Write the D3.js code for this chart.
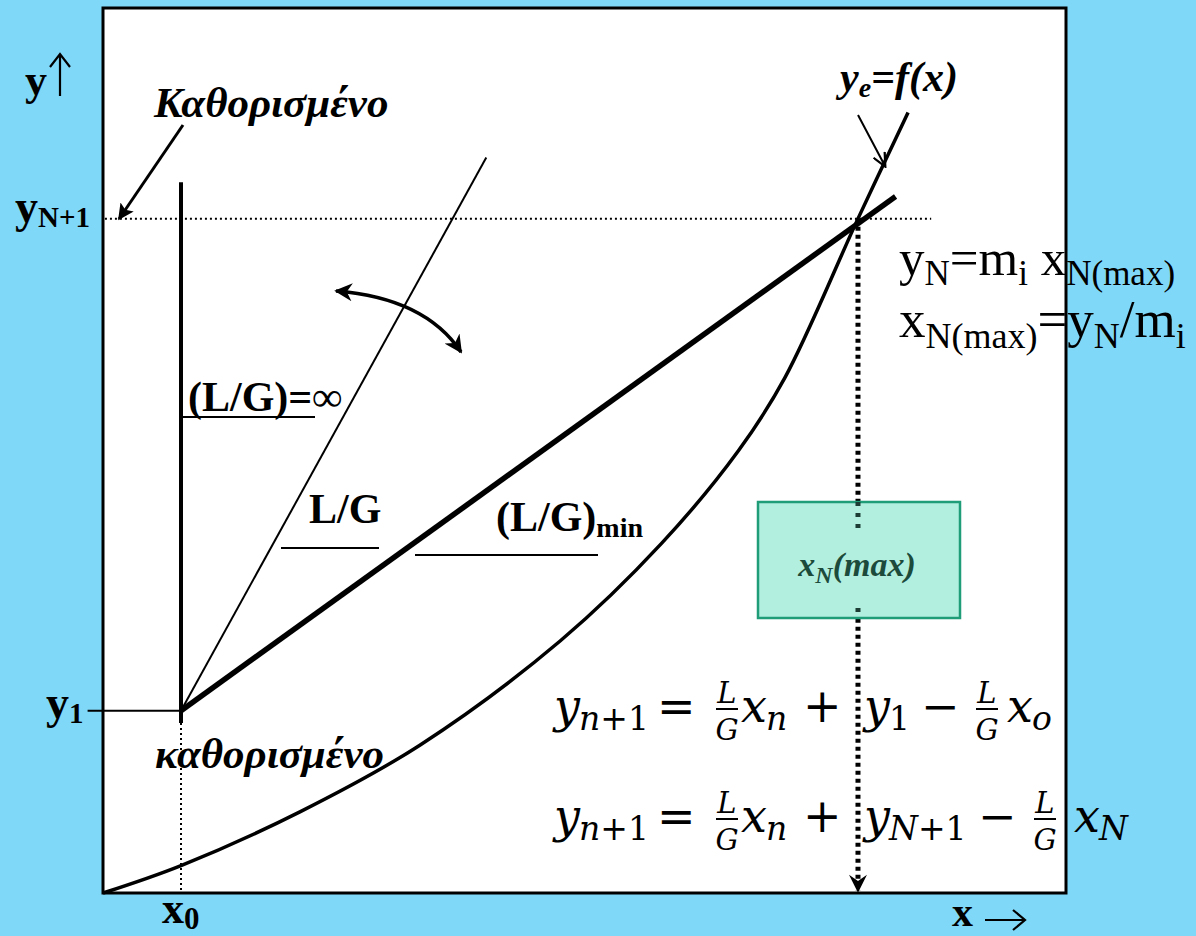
<!DOCTYPE html>
<html>
<head>
<meta charset="utf-8">
<script src="https://cdn.jsdelivr.net/npm/d3@7/dist/d3.min.js"></script>
<style>
  html, body { margin: 0; padding: 0; background: #80d8f8; }
  svg { display: block; }
</style>
</head>
<body>
<svg id="chart" width="1196" height="936"></svg>
<script>
// Absorber design: equilibrium curve y_e = f(x) and operating lines through (x0, y1)

// fixed end conditions
const x0 = 0.81, y1 = 2.06, xN = 7.84, yN1 = 7.62;

// equilibrium curve points (x, y_e)
const equilibrium = [
  [0, 0], [0.81, 0.31], [2.05, 0.92], [3.29, 1.67], [4.75, 2.85],
  [5.8, 3.95], [6.6, 5.0], [7.08, 5.82], [7.84, 7.62], [8.36, 8.82]
];

// operating lines
const lgInfinity = [[x0, 1.92], [x0, 8.03]];   // (L/G) = ∞  (vertical)
const lgOperating = [[x0, y1], [3.98, 8.31]];  // L/G
const lgMinimum = [[x0, y1], [8.23, 7.87]];    // (L/G)min, touches the curve at (xN, yN+1)

const W = 1196, H = 936;
const frame = { left: 103, top: 8, right: 1066, bottom: 893 };

const svg = d3.select("#chart");
const x = d3.scaleLinear().domain([0, 10]).range([frame.left, frame.right]);
const y = d3.scaleLinear().domain([0, 10]).range([frame.bottom, frame.top]);
const line = d3.line().x(d => x(d[0])).y(d => y(d[1]));

const serif = "'Liberation Serif', 'Times New Roman', serif";
const mathFont = "'DejaVu Serif', serif";

// markers
const defs = svg.append("defs");
defs.append("marker").attr("id", "stealth")
  .attr("viewBox", "0 0 10 10").attr("refX", 9).attr("refY", 5)
  .attr("markerUnits", "userSpaceOnUse").attr("markerWidth", 22).attr("markerHeight", 18)
  .attr("orient", "auto-start-reverse")
  .append("path").attr("d", "M0,0 L10,5 L0,10 L3,5 Z").attr("fill", "#000");
defs.append("marker").attr("id", "tri")
  .attr("viewBox", "0 0 10 10").attr("refX", 9).attr("refY", 5)
  .attr("markerUnits", "userSpaceOnUse").attr("markerWidth", 20).attr("markerHeight", 16)
  .attr("orient", "auto")
  .append("path").attr("d", "M0,0 L10,5 L0,10 L2,5 Z").attr("fill", "#000");
defs.append("marker").attr("id", "open")
  .attr("viewBox", "0 0 10 10").attr("refX", 9).attr("refY", 5)
  .attr("markerUnits", "userSpaceOnUse").attr("markerWidth", 16).attr("markerHeight", 14)
  .attr("orient", "auto")
  .append("path").attr("d", "M0,0.5 L9.5,5 L0,9.5").attr("fill", "none")
  .attr("stroke", "#000").attr("stroke-width", 1.6);
defs.append("marker").attr("id", "down")
  .attr("viewBox", "0 0 10 10").attr("refX", 9).attr("refY", 5)
  .attr("markerUnits", "userSpaceOnUse").attr("markerWidth", 20).attr("markerHeight", 18)
  .attr("orient", "auto")
  .append("path").attr("d", "M0,0 L10,5 L0,10 L3.5,5 Z").attr("fill", "#000");

// background and plotting frame
svg.append("rect").attr("width", W).attr("height", H).attr("fill", "#80d8f8");
svg.append("rect")
  .attr("x", frame.left).attr("y", frame.top)
  .attr("width", frame.right - frame.left).attr("height", frame.bottom - frame.top)
  .attr("fill", "#fff").attr("stroke", "#000").attr("stroke-width", 3);

// reference guides
svg.append("line")
  .attr("x1", x(0.02)).attr("x2", x(8.6)).attr("y1", y(yN1)).attr("y2", y(yN1))
  .attr("stroke", "#000").attr("stroke-width", 2).attr("stroke-dasharray", "2,3");
svg.append("line")
  .attr("x1", x(x0)).attr("x2", x(x0)).attr("y1", y(1.92)).attr("y2", y(0))
  .attr("stroke", "#000").attr("stroke-width", 2).attr("stroke-dasharray", "2,3");
svg.append("line")
  .attr("x1", x(-0.16)).attr("x2", x(x0)).attr("y1", y(y1)).attr("y2", y(y1))
  .attr("stroke", "#000").attr("stroke-width", 2);

// curves and operating lines
svg.append("path").datum(equilibrium)
  .attr("d", line.curve(d3.curveCatmullRom))
  .attr("fill", "none").attr("stroke", "#000").attr("stroke-width", 3.5);
line.curve(d3.curveLinear);
svg.append("path").datum(lgInfinity).attr("d", line)
  .attr("fill", "none").attr("stroke", "#000").attr("stroke-width", 4);
svg.append("path").datum(lgOperating).attr("d", line)
  .attr("fill", "none").attr("stroke", "#000").attr("stroke-width", 2);
svg.append("path").datum(lgMinimum).attr("d", line)
  .attr("fill", "none").attr("stroke", "#000").attr("stroke-width", 5.5);

// x_N(max) callout and projection of the pinch point
const box = { x0: 758, x1: 960, y0: 502, y1: 618 };
svg.append("line")
  .attr("x1", x(xN)).attr("x2", x(xN)).attr("y1", y(yN1)).attr("y2", y(0) - 2)
  .attr("stroke", "#000").attr("stroke-width", 5).attr("stroke-dasharray", "4,4")
  .attr("marker-end", "url(#down)");
svg.append("rect")
  .attr("x", box.x0).attr("y", box.y0).attr("width", box.x1 - box.x0).attr("height", box.y1 - box.y0)
  .attr("fill", "#b2efdf").attr("stroke", "#1f9c78").attr("stroke-width", 2.5);
[[box.y0, box.y0 + 26], [box.y1 - 10, box.y1]].forEach(([a, b]) => {
  svg.append("line")
    .attr("x1", x(xN)).attr("x2", x(xN)).attr("y1", a).attr("y2", b)
    .attr("stroke", "#1b3d33").attr("stroke-width", 5).attr("stroke-dasharray", "4,7");
});
const bt = svg.append("text")
  .attr("x", (box.x0 + box.x1) / 2 - 2).attr("y", 576).attr("text-anchor", "middle")
  .attr("font-family", serif).attr("font-style", "italic").attr("font-weight", "bold")
  .attr("font-size", 34).attr("fill", "#1c4a3b");
bt.append("tspan").text("x");
bt.append("tspan").attr("font-size", 24).attr("dy", 7).text("N");
bt.append("tspan").attr("dy", -7).text("(max)");

// arrows
svg.append("line").attr("x1", 183).attr("y1", 125).attr("x2", 119).attr("y2", 219)
  .attr("stroke", "#000").attr("stroke-width", 3).attr("marker-end", "url(#tri)");
svg.append("line").attr("x1", 858).attr("y1", 115).attr("x2", 885).attr("y2", 166)
  .attr("stroke", "#000").attr("stroke-width", 2).attr("marker-end", "url(#open)");
svg.append("path").attr("d", "M336,291 Q425,298 461,352")
  .attr("fill", "none").attr("stroke", "#000").attr("stroke-width", 3.5)
  .attr("marker-start", "url(#stealth)").attr("marker-end", "url(#stealth)");

// helper for text with subscripts
function label(px, py, parts, opts) {
  const t = svg.append("text").attr("x", px).attr("y", py)
    .attr("font-family", opts.family || serif)
    .attr("font-size", opts.size)
    .attr("font-weight", opts.weight || "normal")
    .attr("font-style", opts.style || "normal")
    .attr("fill", "#000");
  let shift = 0;
  parts.forEach(p => {
    const s = t.append("tspan").text(p.t);
    const want = p.dy || 0;
    s.attr("dy", want - shift);
    shift = want;
    if (p.size) s.attr("font-size", p.size);
    if (p.style) s.attr("font-style", p.style);
  });
  return t;
}

// axis labels with their direction arrows
label(25, 95, [{ t: "y" }], { size: 44, weight: "bold" });
svg.append("path").attr("d", "M60,96 V55 M50,67 L60,54 L70,67")
  .attr("fill", "none").attr("stroke", "#000").attr("stroke-width", 2.2);
label(952, 926, [{ t: "x" }], { size: 42, weight: "bold" });
svg.append("path").attr("d", "M985,920 H1024 M1013,910 L1025,920 L1013,930")
  .attr("fill", "none").attr("stroke", "#000").attr("stroke-width", 2.2);
label(15, 222, [{ t: "y" }, { t: "N+1", size: 29, dy: 5 }], { size: 46, weight: "bold" });
label(46, 718, [{ t: "y" }, { t: "1", size: 29, dy: 5 }], { size: 46, weight: "bold" });
label(162, 923, [{ t: "x" }, { t: "0", size: 31, dy: 6 }], { size: 44, weight: "bold" });

// annotations
label(154, 117, [{ t: "Καθορισμένο" }], { size: 43, weight: "bold", style: "italic" });
label(155, 768, [{ t: "καθορισμένο" }], { size: 43, weight: "bold", style: "italic" });
label(840, 91, [{ t: "y" }, { t: "e", size: 28, dy: 6 }, { t: "=f(x)", dy: 0 }],
  { size: 42, weight: "bold", style: "italic" });

label(188, 411, [{ t: "(L/G)=∞" }], { size: 42, weight: "bold" });
label(309, 523, [{ t: "L/G" }], { size: 42, weight: "bold" });
label(496, 531, [{ t: "(L/G)" }, { t: "min", size: 28, dy: 6 }], { size: 42, weight: "bold" });

const underline = (a, b, yy) => svg.append("line")
  .attr("x1", a).attr("x2", b).attr("y1", yy).attr("y2", yy)
  .attr("stroke", "#000").attr("stroke-width", 2.2);
underline(182, 315, 417);
underline(281, 379, 548);
underline(415, 598, 555);

// relations at the pinch point
label(899, 275, [{ t: "y" }, { t: "N", size: 35, dy: 10 }, { t: "=m", dy: 0 },
  { t: "i", size: 35, dy: 10 }, { t: " x", dy: 0 }, { t: "N(max)", size: 35, dy: 10 }], { size: 51 });
label(899, 337, [{ t: "x" }, { t: "N(max)", size: 36, dy: 11 }, { t: "=y", dy: 0 },
  { t: "N", size: 36, dy: 11 }, { t: "/m", dy: 0 }, { t: "i", size: 36, dy: 11 }], { size: 53 });

// operating line equations
function mathRow(base, items) {
  items.forEach(it => {
    if (it.frac) {
      svg.append("text").attr("x", it.x).attr("y", base - 19).attr("text-anchor", "middle")
        .attr("font-family", mathFont).attr("font-style", "italic").attr("font-size", 29).text("L");
      svg.append("text").attr("x", it.x).attr("y", base + 18).attr("text-anchor", "middle")
        .attr("font-family", mathFont).attr("font-style", "italic").attr("font-size", 29).text("G");
      svg.append("line").attr("x1", it.x - 11).attr("x2", it.x + 11)
        .attr("y1", base - 13).attr("y2", base - 13).attr("stroke", "#000").attr("stroke-width", 2);
    } else {
      const t = svg.append("text").attr("x", it.x).attr("y", base)
        .attr("font-family", mathFont).attr("font-size", 46)
        .attr("font-style", it.upright ? "normal" : "italic").attr("fill", "#000").text(it.t);
      if (it.sub) {
        const subs = Array.isArray(it.sub) ? it.sub : [[it.sub, true]];
        let first = true;
        subs.forEach(([s, ital]) => {
          const sp = t.append("tspan").attr("font-size", 33)
            .attr("font-style", ital ? "italic" : "normal").text(s);
          if (first) { sp.attr("dy", 8).attr("dx", -1); first = false; }
        });
      }
    }
  });
}
mathRow(722, [
  { t: "y", x: 554, sub: [["n", true], ["+1", false]] },
  { t: "=", x: 657, upright: true },
  { frac: true, x: 727 },
  { t: "x", x: 741, sub: "n" },
  { t: "+", x: 803, upright: true },
  { t: "y", x: 864, sub: [["1", false]] },
  { t: "−", x: 921, upright: true },
  { frac: true, x: 987 },
  { t: "x", x: 1007, sub: "o" }
]);
mathRow(832, [
  { t: "y", x: 554, sub: [["n", true], ["+1", false]] },
  { t: "=", x: 657, upright: true },
  { frac: true, x: 727 },
  { t: "x", x: 741, sub: "n" },
  { t: "+", x: 803, upright: true },
  { t: "y", x: 864, sub: [["N", true], ["+1", false]] },
  { t: "−", x: 978, upright: true },
  { frac: true, x: 1045 },
  { t: "x", x: 1074, sub: "N" }
]);
</script>
</body>
</html>
